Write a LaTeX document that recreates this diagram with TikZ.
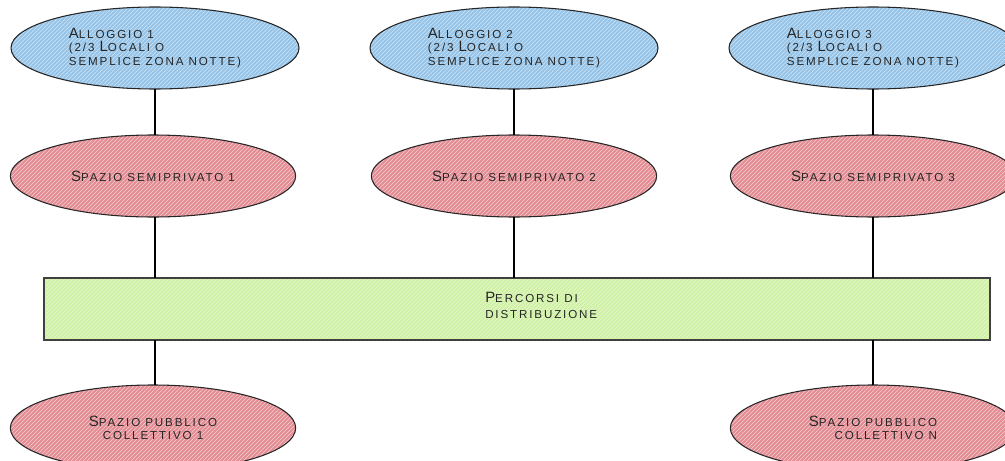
\documentclass[tikz,border=0pt]{standalone}
\usepackage{fontspec}
\setmainfont[LetterSpace=16]{Liberation Sans}
\usetikzlibrary{shapes.geometric,patterns}
\definecolor{bluefill}{RGB}{150,196,232}
\definecolor{bluehatch}{RGB}{205,228,246}
\definecolor{pinkfill}{RGB}{228,140,148}
\definecolor{pinkhatch}{RGB}{246,205,208}
\definecolor{greenfill}{RGB}{208,240,165}
\definecolor{greenhatch}{RGB}{232,250,208}
\newcommand\BigL[1]{{\fontsize{11.2}{10}\selectfont #1}}
\newcommand\SmL[1]{{\fontsize{8.7}{10}\selectfont #1}}
\tikzset{
  ell/.style={ellipse, draw=none, inner sep=0pt,
    minimum width=216pt, minimum height=61.5pt, text=black!85,
    font=\fontsize{8.7}{10}\selectfont},
  alloggio/.style={ell, fill=bluefill,
    postaction={pattern=north east lines, pattern color=bluehatch},
    postaction={draw=black!85, line width=0.8pt}, align=left},
  semip/.style={ell, fill=pinkfill,
    postaction={pattern=north east lines, pattern color=pinkhatch},
    postaction={draw=black!85, line width=0.8pt}},
  distbox/.style={rectangle, fill=greenfill,
    postaction={pattern=north east lines, pattern color=greenhatch},
    postaction={draw=black!75, line width=1.1pt},
    minimum width=709.5pt, minimum height=46.5pt, inner sep=0pt},
  lbl/.style={text=black!85, inner sep=0pt},
  conn/.style={line width=1.2pt, black}
}
\begin{document}
\begin{tikzpicture}[x=0.75pt,y=-0.75pt]
\useasboundingbox (0,0) rectangle (1005,460);
\clip (0,0) rectangle (1005,460);
% top row
\node[alloggio] (a1) at (155,48) {\BigL{A}\SmL{LLOGGIO 1}\\\SmL{(2/3 }\BigL{L}\SmL{OCALI O}\\\SmL{SEMPLICE ZONA NOTTE)}};
\node[alloggio] (a2) at (514,48) {\BigL{A}\SmL{LLOGGIO 2}\\\SmL{(2/3 }\BigL{L}\SmL{OCALI O}\\\SmL{SEMPLICE ZONA NOTTE)}};
\node[alloggio] (a3) at (873,48) {\BigL{A}\SmL{LLOGGIO 3}\\\SmL{(2/3 }\BigL{L}\SmL{OCALI O}\\\SmL{SEMPLICE ZONA NOTTE)}};
% middle row
\node[semip, minimum width=214pt] (s1) at (153,176) {\BigL{S}\SmL{PAZIO SEMIPRIVATO 1}};
\node[semip, minimum width=214pt] (s2) at (514,176) {\BigL{S}\SmL{PAZIO SEMIPRIVATO 2}};
\node[semip, minimum width=214pt] (s3) at (873,176) {\BigL{S}\SmL{PAZIO SEMIPRIVATO 3}};
% distribution box
\node[distbox] (r) at (517,309) {};
\node[lbl, anchor=west, align=left] (rt) at (485,305) {\BigL{P}\SmL{ERCORSI DI}\\\SmL{DISTRIBUZIONE}};
% bottom row
\node[semip, minimum width=214pt, minimum height=64.5pt, align=center] (p1) at (153,428) {\BigL{S}\SmL{PAZIO PUBBLICO}\\\SmL{COLLETTIVO 1}};
\node[semip, minimum width=214pt, minimum height=64.5pt, align=right] (pn) at (873,428) {\BigL{S}\SmL{PAZIO PUBBLICO}\\\SmL{COLLETTIVO N}};
% connectors
\draw[conn] (a1.south) -- (s1.north -| a1.south);
\draw[conn] (a2.south) -- (s2.north);
\draw[conn] (a3.south) -- (s3.north);
\draw[conn] (s1.south -| a1.south) -- (r.north -| a1.south);
\draw[conn] (s2.south) -- (r.north -| s2.south);
\draw[conn] (s3.south) -- (r.north -| s3.south);
\draw[conn] (r.south -| a1.south) -- (p1.north -| a1.south);
\draw[conn] (r.south -| pn.north) -- (pn.north);
\end{tikzpicture}
\end{document}
